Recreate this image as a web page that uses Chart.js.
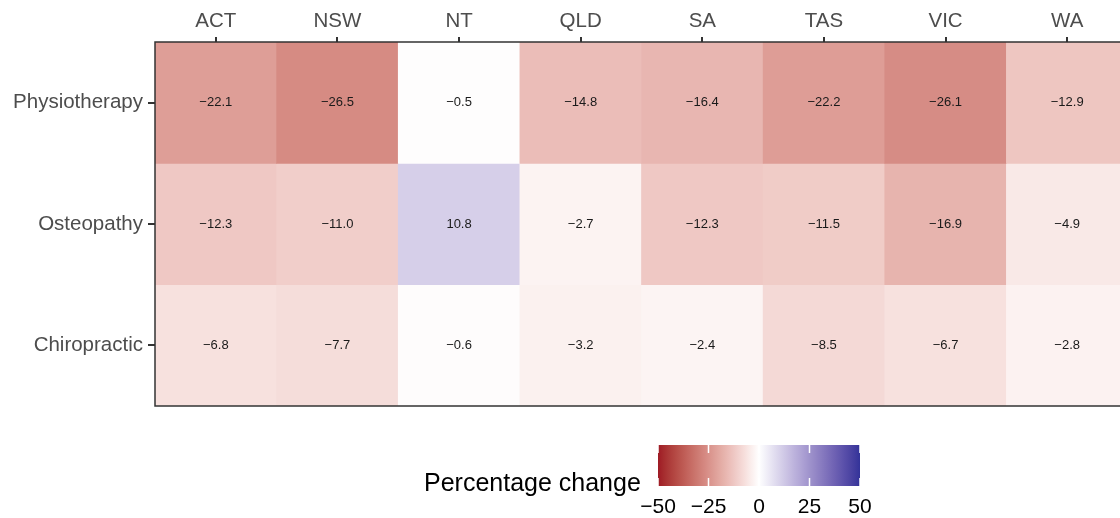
<!DOCTYPE html>
<html>
<head>
<meta charset="utf-8">
<script src="https://cdn.jsdelivr.net/npm/chart.js@4/dist/chart.umd.min.js"></script>
<style>
html,body{margin:0;padding:0;background:#fff;overflow:hidden;}
#wrap{width:1140px;height:518px;}
</style>
</head>
<body>
<div id="wrap"><canvas id="c" width="1140" height="518"></canvas></div>
<script>
const states = ['ACT','NSW','NT','QLD','SA','TAS','VIC','WA'];
const professions = ['Physiotherapy','Osteopathy','Chiropractic'];
const physiotherapy = [-22.1,-26.5,-0.5,-14.8,-16.4,-22.2,-26.1,-12.9];
const osteopathy    = [-12.3,-11.0,10.8,-2.7,-12.3,-11.5,-16.9,-4.9];
const chiropractic  = [-6.8,-7.7,-0.6,-3.2,-2.4,-8.5,-6.7,-2.8];
const rowValues = [physiotherapy, osteopathy, chiropractic];
const legendTicks = [-50,-25,0,25,50];
const LIMIT = 50;
const LOW = '#9E1A24', MID = '#FFFFFF', HIGH = '#333399';

// --- Lab colour interpolation (like ggplot gradient2) ---
function hexToRgb(h){h=h.replace('#','');return [0,2,4].map(i=>parseInt(h.substr(i,2),16));}
function s2l(c){c/=255;return c<=0.04045?c/12.92:Math.pow((c+0.055)/1.055,2.4);}
function l2s(c){c=c<=0.0031308?12.92*c:1.055*Math.pow(c,1/2.4)-0.055;return Math.round(Math.max(0,Math.min(1,c))*255);}
function rgbToLab(rgb){
  const [r,g,b]=rgb.map(s2l);
  const X=(0.4124*r+0.3576*g+0.1805*b)/0.95047, Y=0.2126*r+0.7152*g+0.0722*b, Z=(0.0193*r+0.1192*g+0.9505*b)/1.08883;
  const f=t=>t>0.008856?Math.cbrt(t):(7.787*t+16/116);
  const fx=f(X),fy=f(Y),fz=f(Z);
  return [116*fy-16,500*(fx-fy),200*(fy-fz)];
}
function labToRgb(lab){
  const fy=(lab[0]+16)/116, fx=fy+lab[1]/500, fz=fy-lab[2]/200;
  const fi=t=>t>0.206893?t*t*t:(t-16/116)/7.787;
  const X=fi(fx)*0.95047,Y=fi(fy),Z=fi(fz)*1.08883;
  const r=3.2406*X-1.5372*Y-0.4986*Z, g=-0.9689*X+1.8758*Y+0.0415*Z, b=0.0557*X-0.2040*Y+1.0570*Z;
  return [l2s(r),l2s(g),l2s(b)];
}
const labLow=rgbToLab(hexToRgb(LOW)), labMid=rgbToLab(hexToRgb(MID)), labHigh=rgbToLab(hexToRgb(HIGH));
function colorFor(v){
  let t=Math.max(-1,Math.min(1,v/LIMIT));
  const end=t<0?labLow:labHigh; t=Math.abs(t);
  const lab=[0,1,2].map(i=>labMid[i]+(end[i]-labMid[i])*t);
  const c=labToRgb(lab);
  return 'rgb('+c.join(',')+')';
}
function fmt(v){return (v<0?'\u2212':'')+Math.abs(v).toFixed(1);}

const FONT='"Liberation Sans", Arial, sans-serif';

const datasets = rowValues.map((vals,r)=>({
  label: professions[r],
  data: vals.map(()=>[r-0.5, r+0.5]),
  values: vals,
  backgroundColor: vals.map(colorFor),
  borderWidth: 0,
  barPercentage: 1,
  categoryPercentage: 1
}));

const cellText = {
  id:'cellText',
  afterDatasetsDraw(chart){
    const ctx=chart.ctx, a=chart.chartArea;
    ctx.save();
    ctx.font='13px '+FONT;
    ctx.fillStyle='#1a1a1a';
    ctx.textAlign='center'; ctx.textBaseline='middle';
    chart.data.datasets.forEach((ds,di)=>{
      const meta=chart.getDatasetMeta(di);
      meta.data.forEach((el,i)=>{
        const p=el.getProps(['x','y','base'],true);
        ctx.fillText(fmt(ds.values[i]), p.x, (p.y+p.base)/2);
      });
    });
    ctx.strokeStyle='#333'; ctx.lineWidth=1.5;
    ctx.strokeRect(a.left, a.top, a.right-a.left, a.bottom-a.top);
    ctx.restore();
  }
};

const colorLegend = {
  id:'colorLegend',
  afterDraw(chart){
    const ctx=chart.ctx;
    const bx=658, by=445, bw=202, bh=41;
    ctx.save();
    const g=ctx.createLinearGradient(bx,0,bx+bw,0);
    for(let i=0;i<=40;i++){const v=-LIMIT+i*(2*LIMIT/40);g.addColorStop(i/40,colorFor(v));}
    ctx.fillStyle=g; ctx.fillRect(bx,by,bw,bh);
    ctx.strokeStyle='#fff'; ctx.lineWidth=1.5;
    legendTicks.forEach(v=>{
      const x=bx+(v+LIMIT)/(2*LIMIT)*bw;
      ctx.beginPath();
      ctx.moveTo(x,by); ctx.lineTo(x,by+8);
      ctx.moveTo(x,by+bh-8); ctx.lineTo(x,by+bh);
      ctx.stroke();
    });
    ctx.fillStyle='#000';
    ctx.font='21px '+FONT; ctx.textAlign='center'; ctx.textBaseline='middle';
    legendTicks.forEach(v=>{
      const x=bx+(v+LIMIT)/(2*LIMIT)*bw;
      ctx.fillText(fmt(v).replace('.0',''), x, 507);
    });
    ctx.font='25px '+FONT; ctx.textAlign='left';
    ctx.fillText('Percentage change', 424, 484);
    ctx.restore();
  }
};

new Chart(document.getElementById('c'), {
  type:'bar',
  data:{labels:states, datasets},
  options:{
    responsive:false,
    animation:false,
    layout:{padding:{left:0,right:12,top:0,bottom:112}},
    plugins:{legend:{display:false},tooltip:{enabled:false}},
    datasets:{bar:{grouped:false}},
    scales:{
      x:{
        type:'category', position:'top', offset:true,
        grid:{offset:false, drawOnChartArea:false, drawTicks:true, tickLength:5, color:'#333', lineWidth:2},
        border:{display:false},
        ticks:{font:{family:FONT,size:20.5}, color:'#4D4D4D', padding:3, maxRotation:0, autoSkip:false},
        afterFit(s){s.height=42;}
      },
      y:{
        type:'linear', reverse:true, min:-0.5, max:2.5,
        afterBuildTicks(s){s.ticks=professions.map((p,i)=>({value:i}));},
        grid:{drawOnChartArea:false, drawTicks:true, tickLength:7, color:'#333', lineWidth:2},
        border:{display:false},
        ticks:{font:{family:FONT,size:20.5}, color:'#4D4D4D', padding:5, callback:(v)=>professions[v]},
        afterFit(s){s.width=155;}
      }
    }
  },
  plugins:[cellText, colorLegend]
});
</script>
</body>
</html>
